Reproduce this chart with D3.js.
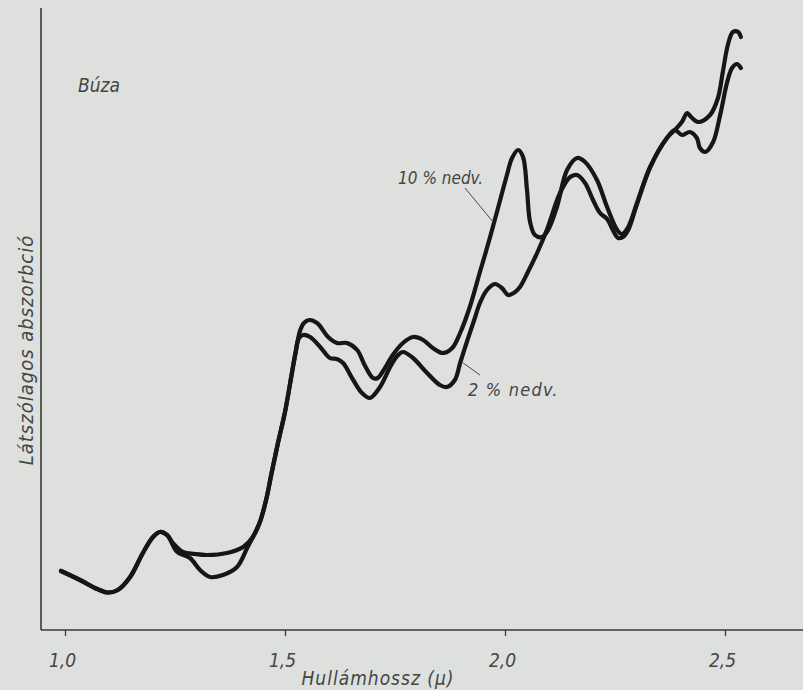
<!DOCTYPE html>
<html>
<head>
<meta charset="utf-8">
<script src="https://cdn.jsdelivr.net/npm/d3@7"></script>
<style>
  html, body { margin: 0; padding: 0; background: #dde0dc; }
  svg { display: block; }
  text { font-family: "DejaVu Sans Condensed", "Liberation Sans Narrow", "DejaVu Sans", sans-serif; font-style: italic; fill: #454545; }
</style>
</head>
<body>
<svg id="chart" width="803" height="690"></svg>
<script>
// ---- Data ----
const tickValues = [1.0, 1.5, 2.0, 2.5];
const tickLabels = ["1,0", "1,5", "2,0", "2,5"];

// 10 % moisture curve: wavelength (µ) and apparent absorption (arbitrary units)
const wl10 = [0.991,1.034,1.073,1.098,1.120,1.148,1.177,1.200,1.216,1.232,
  1.245,1.268,1.295,1.323,1.368,1.405,1.427,1.443,1.457,1.470,1.484,1.500,1.511,1.523,
  1.534,1.543,1.555,1.573,1.598,1.618,1.641,1.664,1.682,1.700,1.711,1.723,1.745,1.768,
  1.791,1.814,1.836,1.859,1.880,1.898,1.920,1.943,1.959,1.973,1.989,2.005,2.016,2.030,
  2.041,2.050,2.057,2.068,2.084,2.098,2.118,2.141,2.164,2.182,2.209,2.232,2.255,2.266,
  2.280,2.300,2.330,2.368,2.386,2.402,2.414,2.423,2.439,2.466,2.484,2.495,2.507,2.518,
  2.530,2.536];
const abs10 = [5.9,5.0,4.1,3.75,4.0,5.3,7.7,9.3,9.8,9.5,
  8.7,7.8,7.6,7.5,7.7,8.3,9.3,10.8,13.0,15.8,18.7,21.8,24.5,27.5,
  29.9,30.7,31.0,30.7,29.3,28.7,28.7,28.0,26.4,25.2,25.2,25.9,27.5,28.7,
  29.3,29.0,28.2,27.7,28.2,29.7,32.3,35.8,38.2,40.4,43.0,45.6,47.2,48.0,
  47.3,44.0,40.8,39.5,39.3,40.0,42.3,46.0,47.2,46.8,45.0,42.3,40.0,39.6,
  40.3,42.7,46.3,49.2,50.0,50.8,51.7,51.3,50.8,51.5,53.2,55.8,58.6,59.8,
  59.8,59.3];

// 2 % moisture curve
const wl2 = [0.991,1.034,1.073,1.098,1.120,1.148,1.177,1.200,1.216,1.232,
  1.255,1.284,1.307,1.330,1.359,1.391,1.414,1.427,1.443,1.457,1.470,1.484,1.500,1.511,1.523,
  1.532,1.541,1.557,1.580,1.602,1.618,1.632,1.655,1.675,1.693,1.716,1.739,1.755,1.768,
  1.791,1.823,1.852,1.868,1.886,1.898,1.914,1.930,1.943,1.959,1.977,1.993,2.007,2.020,
  2.034,2.052,2.073,2.095,2.125,2.148,2.164,2.182,2.200,2.216,2.232,2.245,2.257,2.268,
  2.280,2.300,2.330,2.368,2.386,2.402,2.420,2.436,2.443,2.455,2.473,2.489,2.505,2.516,
  2.527,2.536];
const abs2 = [5.9,5.0,4.1,3.75,4.0,5.3,7.7,9.3,9.8,9.5,
  7.8,7.2,6.0,5.3,5.5,6.3,8.2,9.3,10.8,13.0,15.8,18.7,21.8,24.5,27.5,
  29.2,29.5,29.3,28.3,27.2,27.1,26.7,25.0,23.7,23.2,24.3,26.3,27.4,27.8,
  27.2,25.7,24.5,24.3,25.0,26.7,28.9,31.0,32.7,34.0,34.6,34.2,33.5,33.7,
  34.3,35.8,37.7,40.0,43.7,45.3,45.5,44.7,43.0,41.7,41.1,40.0,39.2,39.3,
  40.0,42.6,46.3,49.2,50.0,49.5,49.8,49.2,48.2,47.8,48.8,51.5,54.8,56.2,
  56.6,56.2];

// Annotation texts (positions in data space)
const labelTexts = ["10 % nedv.", "2 % nedv."];
const labelWl = [1.757, 1.916];
const labelAbs = [44.6, 23.4];
const leaderFromWl = [1.909, 1.905];
const leaderFromAbs = [44.2, 26.7];
const leaderToWl = [1.973, 1.943];
const leaderToAbs = [40.8, 25.5];

const titleText = "Búza";
const xTitle = "Hullámhossz (\u03BC)";
const yTitle = "Látszólagos abszorbció";

// ---- Chart ----
const W = 803, H = 690;
const axisX = 41, axisY = 630, axisTop = 8;
const svg = d3.select("#chart");

svg.append("rect").attr("width", W).attr("height", H).attr("fill", "#dde0dc");

const x = d3.scaleLinear().domain([1.0, 2.5]).range([65, 725]);
const y = d3.scaleLinear().domain([0, 62]).range([axisY, 10]);

// axes
svg.append("line").attr("x1", axisX).attr("x2", axisX).attr("y1", axisTop).attr("y2", axisY)
  .attr("stroke", "#3a3a3a").attr("stroke-width", 1.6);
svg.append("line").attr("x1", axisX).attr("x2", W).attr("y1", axisY).attr("y2", axisY)
  .attr("stroke", "#3a3a3a").attr("stroke-width", 1.6);

const xAxis = d3.axisBottom(x).tickValues(tickValues)
  .tickFormat((d, i) => tickLabels[i]).tickSize(6).tickSizeOuter(0);
const gx = svg.append("g").attr("transform", `translate(0,${axisY})`).call(xAxis);
gx.select(".domain").remove();
gx.selectAll(".tick line").attr("stroke", "#3a3a3a").attr("stroke-width", 1.3);
gx.selectAll(".tick text")
  .attr("y", 37).attr("dy", 0).attr("dx", -3)
  .style("font-family", "'DejaVu Sans Condensed', 'DejaVu Sans', sans-serif")
  .style("font-style", "italic")
  .style("font-size", "19px").attr("fill", "#454545");

// curves
const line = d3.line().x(d => x(d[0])).y(d => y(d[1])).curve(d3.curveCatmullRom.alpha(0.5));
const s2 = wl2.map((w, i) => [w, abs2[i]]);
const s10 = wl10.map((w, i) => [w, abs10[i]]);

[s2, s10].forEach(s => {
  svg.append("path").datum(s).attr("d", line)
    .attr("fill", "none").attr("stroke", "#161616")
    .attr("stroke-width", 4.2).attr("stroke-linejoin", "round").attr("stroke-linecap", "round");
});

// annotations
labelTexts.forEach((t, i) => {
  svg.append("line")
    .attr("x1", x(leaderFromWl[i])).attr("y1", y(leaderFromAbs[i]))
    .attr("x2", x(leaderToWl[i])).attr("y2", y(leaderToAbs[i]))
    .attr("stroke", "#4a4a4a").attr("stroke-width", 1);
  svg.append("text").attr("x", x(labelWl[i])).attr("y", y(labelAbs[i]))
    .attr("font-size", i === 0 ? 17 : 18)
    .attr("letter-spacing", i === 0 ? 0 : 1.2).text(t);
});

svg.append("text").attr("x", 78).attr("y", 92).attr("font-size", 19).text(titleText);

svg.append("text").attr("x", 378).attr("y", 685).attr("text-anchor", "middle")
  .attr("font-size", 19).attr("letter-spacing", 1).text(xTitle);

svg.append("text").attr("transform", "translate(33,350) rotate(-90)")
  .attr("text-anchor", "middle").attr("font-size", 20).attr("letter-spacing", 1).text(yTitle);
</script>
</body>
</html>
